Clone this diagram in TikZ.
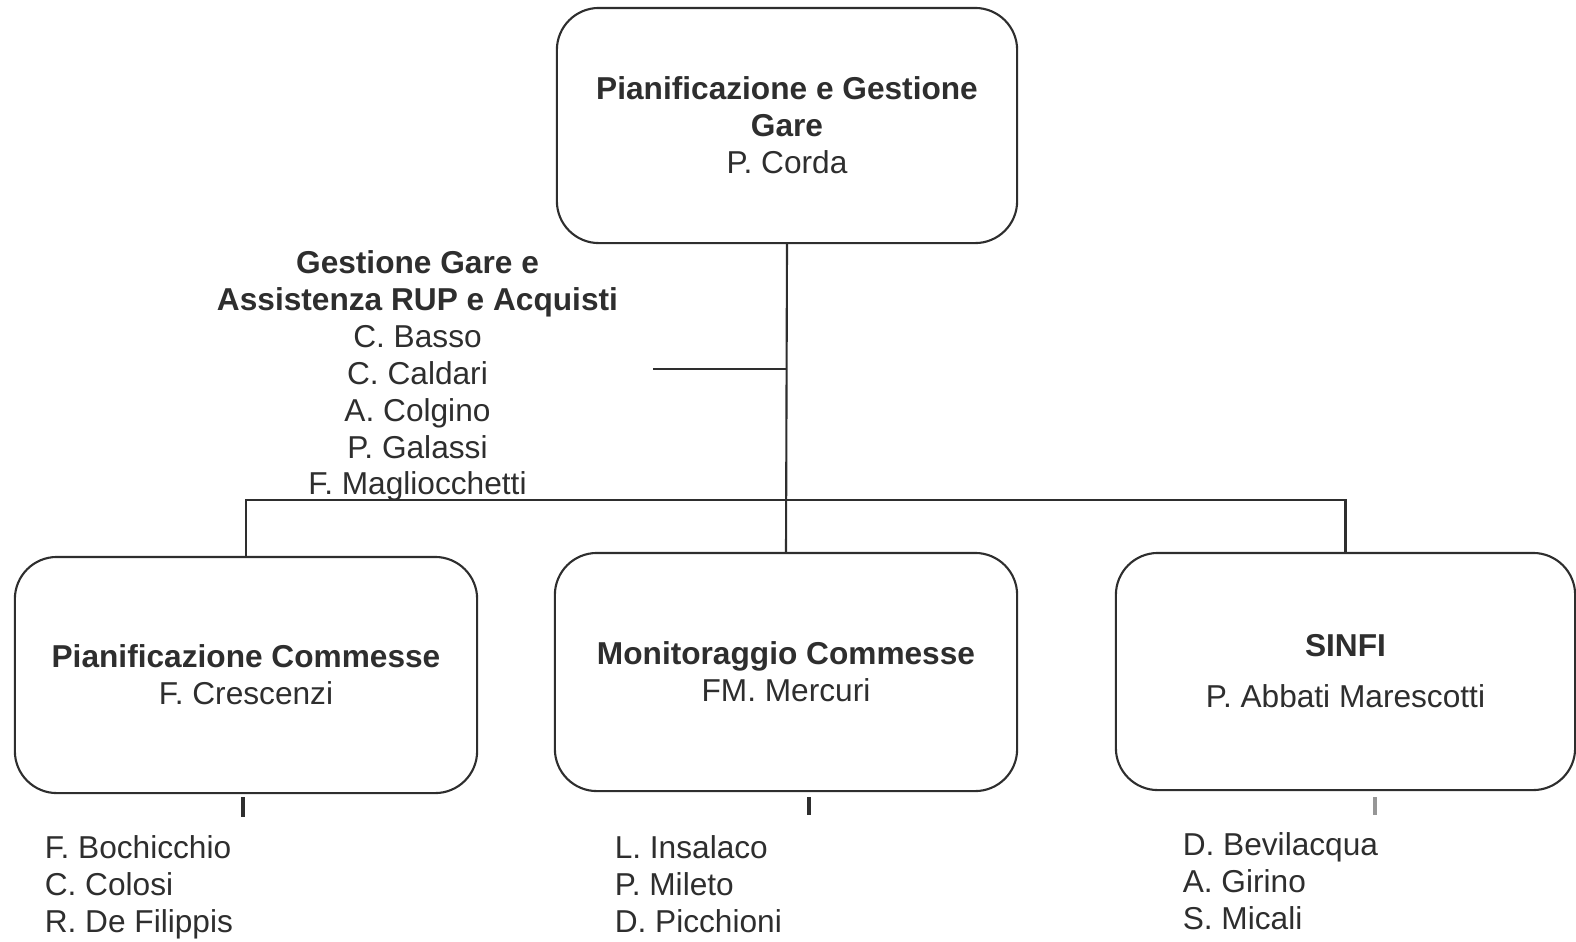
\documentclass[tikz,border=0pt]{standalone}
\usepackage{fontspec}
\setmainfont{Liberation Sans}
\definecolor{ink}{HTML}{2E2E2E}

\begin{document}
\begin{tikzpicture}[x=0.01cm,y=-0.01cm,
    line width=0.6pt, draw=ink, text=ink,
    every node/.style={font=\fontsize{9pt}{10.5pt}\selectfont},
    unit/.style={draw=ink, rounded corners=0.42cm, align=center, line width=0.6pt},
    staff/.style={align=left, anchor=base west},
    tick/.style={line width=1.1pt}]
    \useasboundingbox (0,0) rectangle (1576,941);

    \node[unit, minimum width=4.6cm, minimum height=2.35cm] (pg) at (787,125.5)
        {\textbf{Pianificazione e Gestione}\\\textbf{Gare}\\P. Corda};

    \node[unit, minimum width=4.62cm, minimum height=2.36cm] (pc) at (246,675)
        {\textbf{Pianificazione Commesse}\\F. Crescenzi};
    \node[unit, minimum width=4.62cm, minimum height=2.38cm] (mc) at (786,672)
        {\textbf{Monitoraggio Commesse}\\FM. Mercuri};
    \node[unit, minimum width=4.59cm, minimum height=2.37cm] (sf) at (1345.5,671.5)
        {\textbf{SINFI}\\[4pt]P. Abbati Marescotti};

    \node[align=center] (gg) at (417.5,376)
        {\textbf{Gestione Gare e}\\\textbf{Assistenza RUP e Acquisti}\\C. Basso\\C. Caldari\\A. Colgino\\P. Galassi\\F. Magliocchetti};

    \draw (pg.south) -- (mc.north);
    \coordinate (gb) at (653,369);
    \draw (gb) -- (gb -| pg.south);
    \coordinate (bar) at (787,500);
    \draw (pc.north) |- (bar) -| (sf.north);

    \coordinate (t1) at (243,797);
    \coordinate (t2) at (809,797);
    \coordinate (t3) at (1375,797);
    \draw[tick] (t1) -- ++(0,20);
    \draw[tick, line width=0.9pt] (t2) -- ++(0,18);
    \draw[tick, line width=0.9pt, draw=ink!50] (t3) -- ++(0,18);

    \node[staff] (l1) at (32,932) {F. Bochicchio\\C. Colosi\\R. De Filippis};
    \node[staff] (l2) at (602,932) {L. Insalaco\\P. Mileto\\D. Picchioni};
    \node[staff] (l3) at (1170,929) {D. Bevilacqua\\A. Girino\\S. Micali};
\end{tikzpicture}
\end{document}
